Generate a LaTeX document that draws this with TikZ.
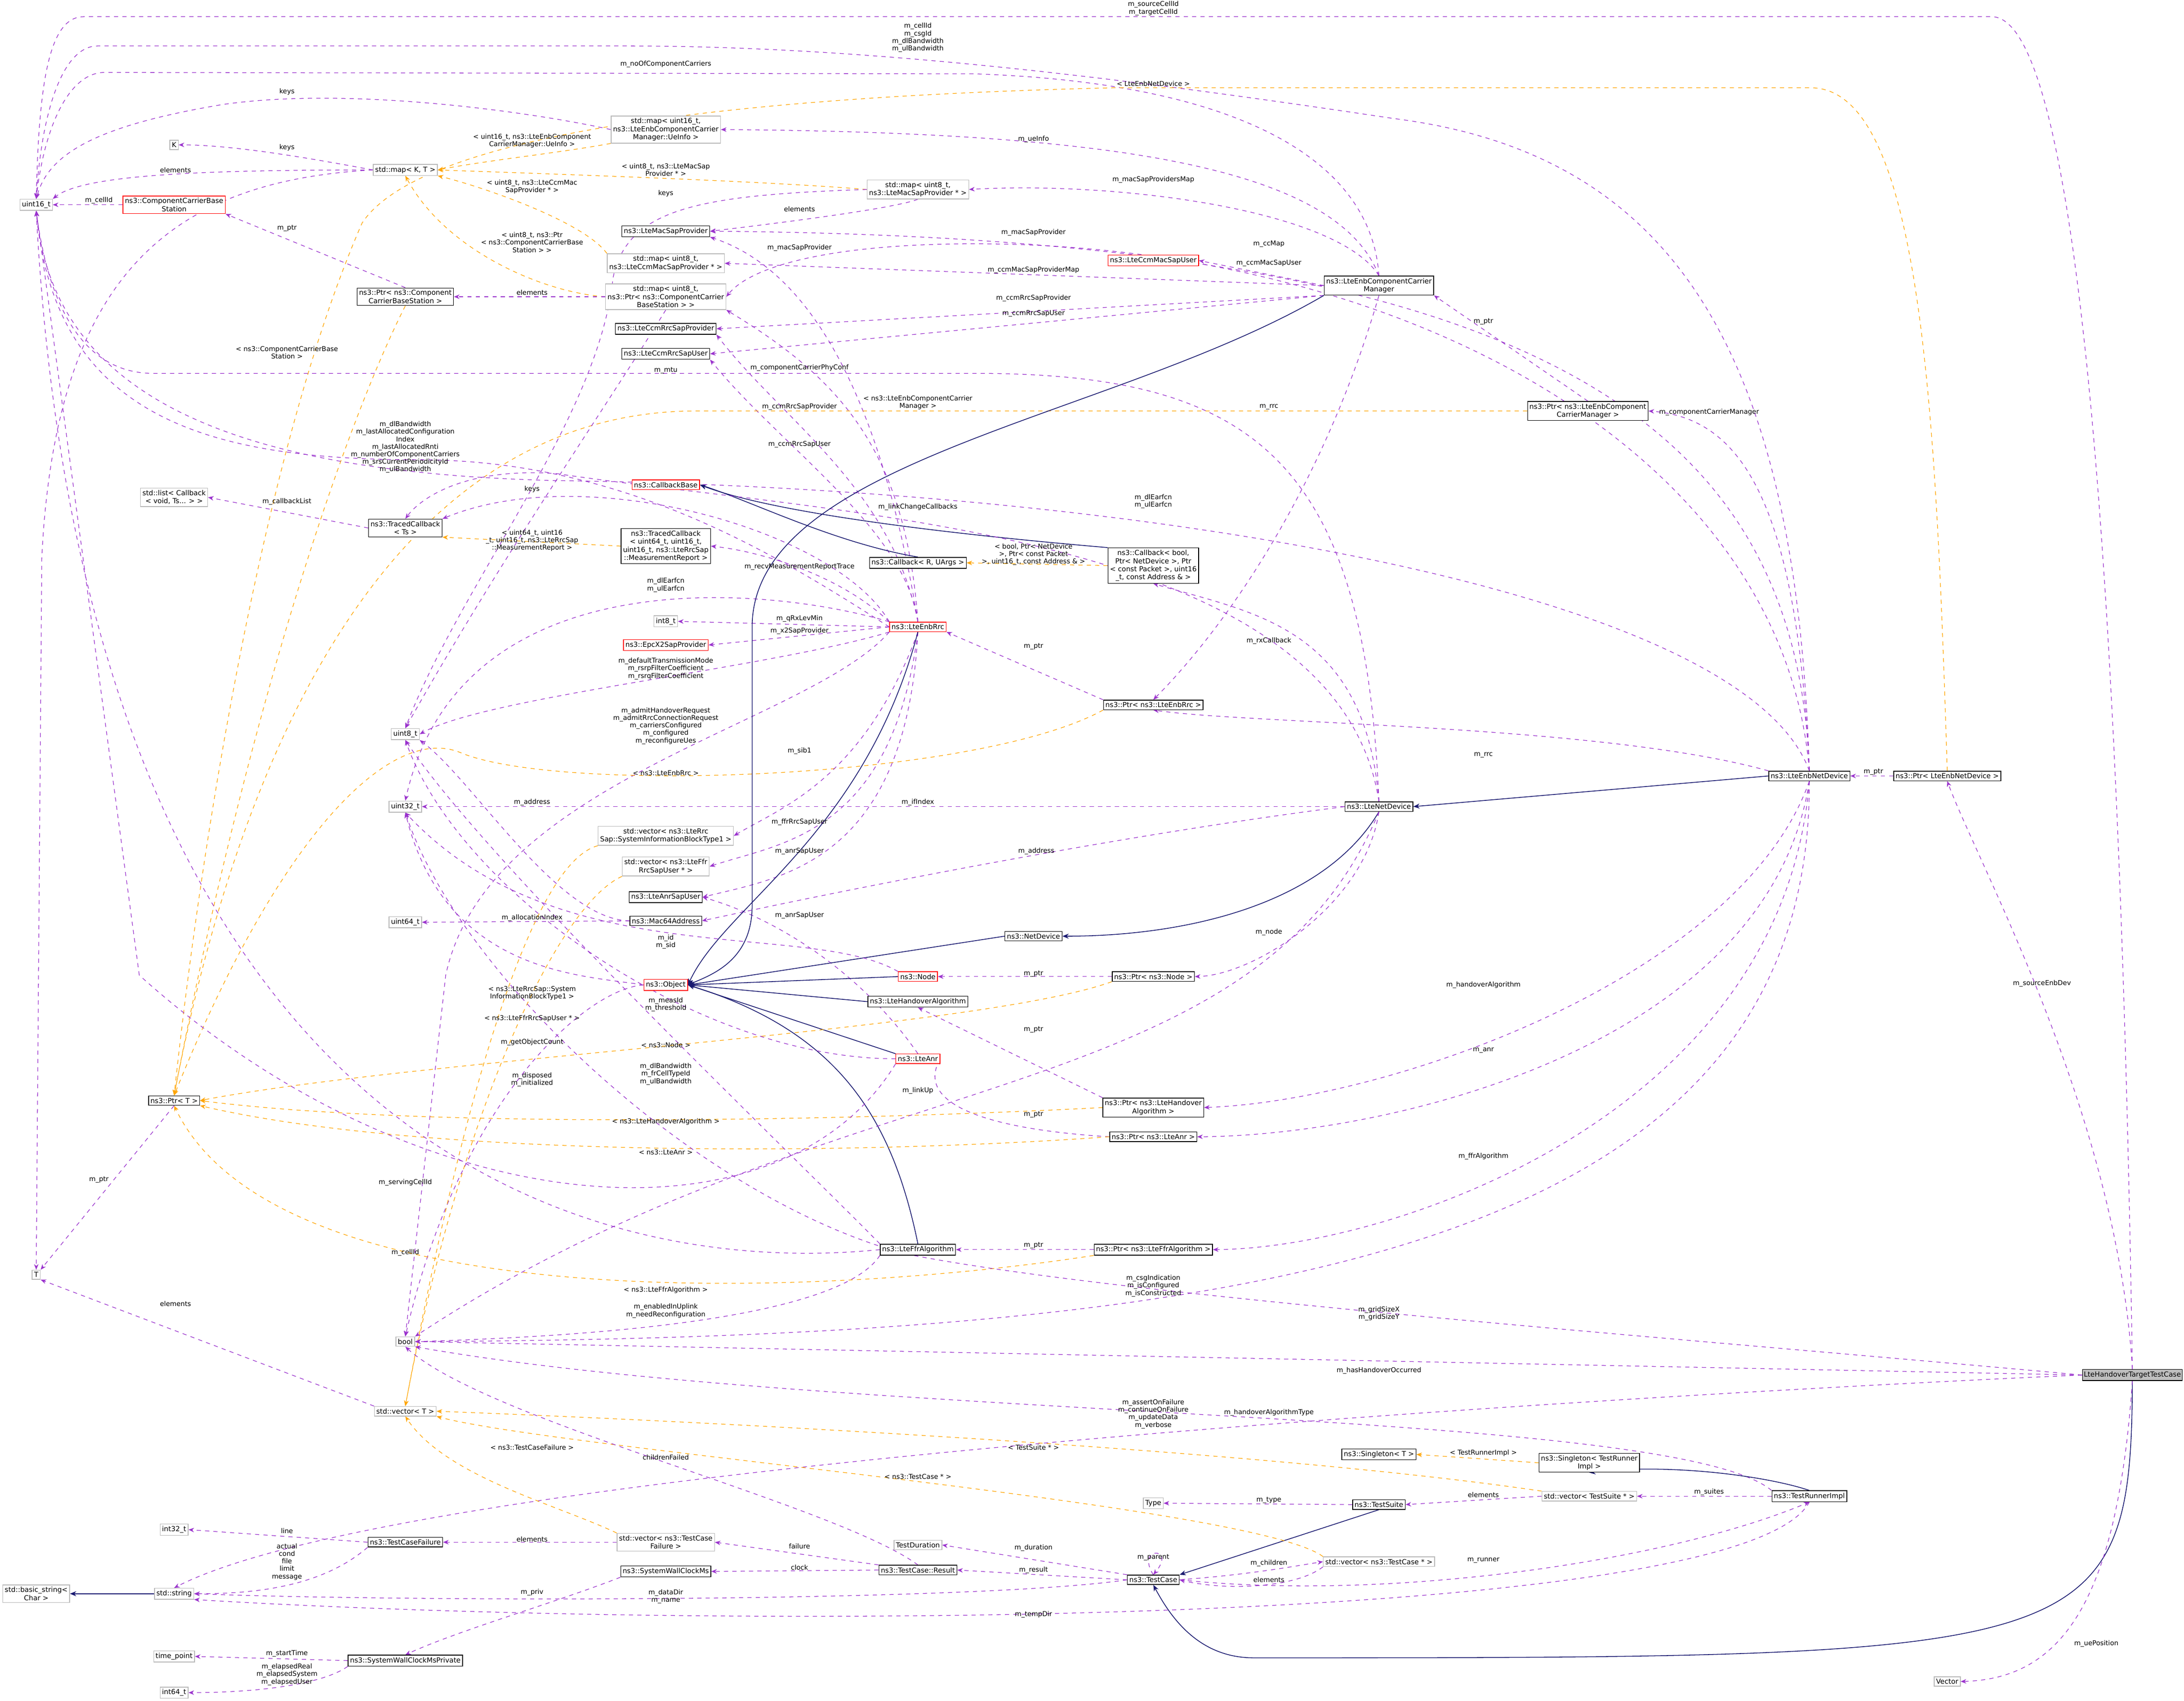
\documentclass[tikz,border=0pt]{standalone}
\usepackage{fontspec}
\setmainfont{DejaVu Sans}
\usetikzlibrary{arrows.meta}
\pgfdeclarelayer{bg}
\pgfsetlayers{bg,main}
\definecolor{pu}{HTML}{9A32CD}
\definecolor{og}{HTML}{FFA500}
\definecolor{nv}{HTML}{191970}
\tikzset{
 base/.style={rectangle,fill=white,align=center,inner xsep=1.4pt,inner ysep=1.5pt,font=\fontsize{5}{5.8}\selectfont,line width=0.5pt},
 cls/.style={base,draw=black},
 ext/.style={base,draw=gray!55},
 rd/.style={base,draw=red},
 lab/.style={align=center,inner sep=0.3pt,font=\fontsize{4.8}{5.4}\selectfont},
 pe/.style={draw=pu,dashed,line width=0.45pt,-{Stealth[length=4pt,width=3.2pt]}},
 oe/.style={draw=og,dashed,line width=0.45pt,-{Stealth[length=4pt,width=3.2pt]}},
 ie/.style={draw=nv,line width=0.55pt,-{Stealth[length=4.5pt,width=3.6pt]}},
}
\begin{document}
\begin{tikzpicture}[x=1pt,y=-1pt]
\begin{pgfonlayer}{bg}
\useasboundingbox[fill=white] (0,0) rectangle (1568,1221);
\end{pgfonlayer}
% ---------- nodes
\node[ext] (u16) at (26,147) {uint16\_t};
\node[ext] (K) at (125,104) {K};
\node[ext] (mapKT) at (291,122) {std::map< K, T >};
\node[ext] (mapUe) at (478,93) {std::map< uint16\_t,\\ ns3::LteEnbComponentCarrier\\Manager::UeInfo >};
\node[ext] (mapMac) at (659,136) {std::map< uint8\_t,\\ ns3::LteMacSapProvider * >};
\node[rd] (ccbs) at (125,147) {ns3::ComponentCarrierBase\\Station};
\node[cls] (macsp) at (478,166) {ns3::LteMacSapProvider};
\node[ext] (mapCcmMac) at (478,189) {std::map< uint8\_t,\\ ns3::LteCcmMacSapProvider * >};
\node[cls] (ptrCcbs) at (291,213) {ns3::Ptr< ns3::Component\\CarrierBaseStation >};
\node[ext] (mapCcbs) at (478,213) {std::map< uint8\_t,\\ ns3::Ptr< ns3::ComponentCarrier\\BaseStation > >};
\node[cls] (ccmRrcP) at (478,236) {ns3::LteCcmRrcSapProvider};
\node[cls] (ccmRrcU) at (478,254) {ns3::LteCcmRrcSapUser};
\node[rd] (ccmMacU) at (828,187) {ns3::LteCcmMacSapUser};
\node[cls] (ccm) at (990,205) {ns3::LteEnbComponentCarrier\\Manager};
\node[cls] (ptrCcm) at (1140,295) {ns3::Ptr< ns3::LteEnbComponent\\CarrierManager >};
\node[ext] (list) at (125,357) {std::list< Callback\\< void, Ts... > >};
\node[cls] (tcTs) at (291,379) {ns3::TracedCallback\\< Ts >};
\node[rd] (cbBase) at (478,348) {ns3::CallbackBase};
\node[cls] (tcMR) at (478,392) {ns3::TracedCallback\\< uint64\_t, uint16\_t,\\ uint16\_t, ns3::LteRrcSap\\::MeasurementReport >};
\node[cls] (cbRU) at (659,404) {ns3::Callback< R, UArgs >};
\node[cls] (cbBool) at (828,406) {ns3::Callback< bool,\\ Ptr< NetDevice >, Ptr\\< const Packet >, uint16\\\_t, const Address \& >};
\node[ext] (i8) at (478,446) {int8\_t};
\node[rd] (rrc) at (659,450) {ns3::LteEnbRrc};
\node[rd] (x2) at (478,463) {ns3::EpcX2SapProvider};
\node[cls] (ptrRrc) at (828,506) {ns3::Ptr< ns3::LteEnbRrc >};
\node[ext] (u8) at (291,527) {uint8\_t};
\node[ext] (u32) at (291,579) {uint32\_t};
\node[cls] (ltend) at (990,579) {ns3::LteNetDevice};
\node[cls] (enbdev) at (1299,557) {ns3::LteEnbNetDevice};
\node[cls] (ptrEnbdev) at (1398,557) {ns3::Ptr< LteEnbNetDevice >};
\node[ext] (vSib) at (478,600) {std::vector< ns3::LteRrc\\Sap::SystemInformationBlockType1 >};
\node[ext] (vFfr) at (478,622) {std::vector< ns3::LteFfr\\RrcSapUser * >};
\node[cls] (anrSap) at (478,644) {ns3::LteAnrSapUser};
\node[cls] (mac64) at (478,661) {ns3::Mac64Address};
\node[ext] (u64) at (291,662) {uint64\_t};
\node[cls] (netdev) at (742,672) {ns3::NetDevice};
\node[rd] (node) at (659,701) {ns3::Node};
\node[cls] (ptrNode) at (828,701) {ns3::Ptr< ns3::Node >};
\node[rd] (obj) at (478,707) {ns3::Object};
\node[cls] (ho) at (659,719) {ns3::LteHandoverAlgorithm};
\node[rd] (anr) at (659,760) {ns3::LteAnr};
\node[cls] (ptrT) at (125,790) {ns3::Ptr< T >};
\node[cls] (ptrHo) at (828,795) {ns3::Ptr< ns3::LteHandover\\Algorithm >};
\node[cls] (ptrAnr) at (828,816) {ns3::Ptr< ns3::LteAnr >};
\node[ext] (T) at (26,915) {T};
\node[cls] (ffr) at (659,897) {ns3::LteFfrAlgorithm};
\node[cls] (ptrFfr) at (828,897) {ns3::Ptr< ns3::LteFfrAlgorithm >};
\node[ext] (bool) at (291,963) {bool};
\node[ext] (vT) at (291,1013) {std::vector< T >};
\node[base,draw=black,fill=gray!50,anchor=east,inner xsep=1pt] (htc) at (1567,987) {LteHandoverTargetTestCase};
\node[cls] (singT) at (990,1044) {ns3::Singleton< T >};
\node[cls] (singR) at (1141,1050) {ns3::Singleton< TestRunner\\Impl >};
\node[ext] (type) at (828,1079) {Type};
\node[cls] (suite) at (990,1080) {ns3::TestSuite};
\node[ext] (vSuite) at (1141,1074) {std::vector< TestSuite * >};
\node[cls] (runner) at (1299,1074) {ns3::TestRunnerImpl};
\node[ext] (i32) at (125,1098) {int32\_t};
\node[cls] (tcf) at (291,1107) {ns3::TestCaseFailure};
\node[ext] (vTcf) at (478,1107) {std::vector< ns3::TestCase\\Failure >};
\node[ext] (dur) at (659,1109) {TestDuration};
\node[cls] (swc) at (478,1128) {ns3::SystemWallClockMs};
\node[cls] (result) at (659,1127) {ns3::TestCase::Result};
\node[cls] (tcase) at (828,1134) {ns3::TestCase};
\node[ext] (vTc) at (990,1121) {std::vector< ns3::TestCase * >};
\node[ext] (bstr) at (26,1144) {std::basic\_string<\\ Char >};
\node[ext] (str) at (125,1144) {std::string};
\node[ext] (tp) at (125,1189) {time\_point};
\node[cls] (swcp) at (291,1192) {ns3::SystemWallClockMsPrivate};
\node[ext] (i64) at (125,1215) {int64\_t};
\node[ext] (vec) at (1398,1207) {Vector};

% ---------- labels
\node[lab] (l1) at (828,6) {m\_sourceCellId\\m\_targetCellId};
\node[lab] (l2) at (659,27) {m\_cellId\\m\_csgId\\m\_dlBandwidth\\m\_ulBandwidth};
\node[lab] (l3) at (478,46) {m\_noOfComponentCarriers};
\node[lab] (l4) at (206,66) {keys};
\node[lab] (l5) at (828,60) {< LteEnbNetDevice >};
\node[lab] (l6) at (206,106) {keys};
\node[lab] (l7) at (126,122) {elements};
\node[lab] (l8) at (382,101) {< uint16\_t, ns3::LteEnbComponent\\CarrierManager::UeInfo >};
\node[lab] (l9) at (478,122) {< uint8\_t, ns3::LteMacSap\\Provider * >};
\node[lab] (l10) at (382,134) {< uint8\_t, ns3::LteCcmMac\\SapProvider * >};
\node[lab] (l11) at (478,139) {keys};
\node[lab] (l12) at (574,150) {elements};
\node[lab] (l13) at (742,100) {m\_ueInfo};
\node[lab] (l14) at (828,129) {m\_macSapProvidersMap};
\node[lab] (l15) at (71,144) {m\_cellId};
\node[lab] (l16) at (206,164) {m\_ptr};
\node[lab] (l17) at (382,174) {< uint8\_t, ns3::Ptr\\< ns3::ComponentCarrierBase\\Station > >};
\node[lab] (l18) at (382,210) {elements};
\node[lab] (l19) at (742,167) {m\_macSapProvider};
\node[lab] (l20) at (911,175) {m\_ccMap};
\node[lab] (l21) at (574,178) {m\_macSapProvider};
\node[lab] (l22) at (911,189) {m\_ccmMacSapUser};
\node[lab] (l23) at (742,194) {m\_ccmMacSapProviderMap};
\node[lab] (l24) at (742,214) {m\_ccmRrcSapProvider};
\node[lab] (l25) at (742,225) {m\_ccmRrcSapUser};
\node[lab] (l26) at (206,253) {< ns3::ComponentCarrierBase\\Station >};
\node[lab] (l27) at (574,264) {m\_componentCarrierPhyConf};
\node[lab] (l28) at (659,289) {< ns3::LteEnbComponentCarrier\\Manager >};
\node[lab] (l29) at (1065,231) {m\_ptr};
\node[lab] (l30) at (1227,296) {m\_componentCarrierManager};
\node[lab] (l31) at (911,292) {m\_rrc};
\node[lab] (l32) at (478,266) {m\_mtu};
\node[lab] (l33) at (574,292) {m\_ccmRrcSapProvider};
\node[lab] (l34) at (574,319) {m\_ccmRrcSapUser};
\node[lab] (l35) at (291,321) {m\_dlBandwidth\\m\_lastAllocatedConfiguration\\Index\\m\_lastAllocatedRnti\\m\_numberOfComponentCarriers\\m\_srsCurrentPeriodicityId\\m\_ulBandwidth};
\node[lab] (l36) at (206,360) {m\_callbackList};
\node[lab] (l37) at (382,351) {keys};
\node[lab] (l39) at (382,388) {< uint64\_t, uint16\\\_t, uint16\_t, ns3::LteRrcSap\\::MeasurementReport >};
\node[lab] (l40) at (659,364) {m\_linkChangeCallbacks};
\node[lab] (l41) at (828,360) {m\_dlEarfcn\\m\_ulEarfcn};
\node[lab] (l42) at (742,398) {< bool, Ptr< NetDevice\\>, Ptr< const Packet\\>, uint16\_t, const Address \& >};
\node[lab] (l43) at (574,407) {m\_recvMeasurementReportTrace};
\node[lab] (l44) at (478,420) {m\_dlEarfcn\\m\_ulEarfcn};
\node[lab] (l45) at (574,444) {m\_qRxLevMin};
\node[lab] (l46) at (574,453) {m\_x2SapProvider};
\node[lab] (l47) at (478,480) {m\_defaultTransmissionMode\\m\_rsrpFilterCoefficient\\m\_rsrqFilterCoefficient};
\node[lab] (l48) at (742,464) {m\_ptr};
\node[lab] (l49) at (911,460) {m\_rxCallback};
\node[lab] (l50) at (478,521) {m\_admitHandoverRequest\\m\_admitRrcConnectionRequest\\m\_carriersConfigured\\m\_configured\\m\_reconfigureUes};
\node[lab] (l51) at (574,539) {m\_sib1};
\node[lab] (l52) at (478,555) {< ns3::LteEnbRrc >};
\node[lab] (l53) at (1065,542) {m\_rrc};
\node[lab] (l54) at (1345,554) {m\_ptr};
\node[lab] (l55) at (659,576) {m\_ifIndex};
\node[lab] (l56) at (382,576) {m\_address};
\node[lab] (l57) at (574,590) {m\_ffrRrcSapUser};
\node[lab] (l58) at (574,611) {m\_anrSapUser};
\node[lab] (l59) at (744,611) {m\_address};
\node[lab] (l60) at (574,657) {m\_anrSapUser};
\node[lab] (l61) at (382,659) {m\_allocationIndex};
\node[lab] (l62) at (911,669) {m\_node};
\node[lab] (l63) at (478,676) {m\_id\\m\_sid};
\node[lab] (l64) at (742,699) {m\_ptr};
\node[lab] (l65) at (382,713) {< ns3::LteRrcSap::System\\InformationBlockType1 >};
\node[lab] (l66) at (478,721) {m\_measId\\m\_threshold};
\node[lab] (l67) at (382,731) {< ns3::LteFfrRrcSapUser * >};
\node[lab] (l68) at (742,739) {m\_ptr};
\node[lab] (l69) at (382,748) {m\_getObjectCount};
\node[lab] (l70) at (478,750) {< ns3::Node >};
\node[lab] (l71) at (382,775) {m\_disposed\\m\_initialized};
\node[lab] (l72) at (1065,707) {m\_handoverAlgorithm};
\node[lab] (l73) at (478,771) {m\_dlBandwidth\\m\_frCellTypeId\\m\_ulBandwidth};
\node[lab] (l74) at (659,783) {m\_linkUp};
\node[lab] (l75) at (742,800) {m\_ptr};
\node[lab] (l76) at (478,805) {< ns3::LteHandoverAlgorithm >};
\node[lab] (l77) at (478,827) {< ns3::LteAnr >};
\node[lab] (l78) at (1065,754) {m\_anr};
\node[lab] (l79) at (71,847) {m\_ptr};
\node[lab] (l80) at (291,849) {m\_servingCellId};
\node[lab] (l81) at (291,899) {m\_cellId};
\node[lab] (l82) at (742,894) {m\_ptr};
\node[lab] (l83) at (1065,830) {m\_ffrAlgorithm};
\node[lab] (l84) at (126,936) {elements};
\node[lab] (l85) at (478,926) {< ns3::LteFfrAlgorithm >};
\node[lab] (l86) at (478,941) {m\_enabledInUplink\\m\_needReconfiguration};
\node[lab] (l87) at (828,923) {m\_csgIndication\\m\_isConfigured\\m\_isConstructed};
\node[lab] (l88) at (990,943) {m\_gridSizeX\\m\_gridSizeY};
\node[lab] (l89) at (990,984) {m\_hasHandoverOccurred};
\node[lab] (l90) at (911,1014) {m\_handoverAlgorithmType};
\node[lab] (l91) at (828,1015) {m\_assertOnFailure\\m\_continueOnFailure\\m\_updateData\\m\_verbose};
\node[lab] (l92) at (1466,706) {m\_sourceEnbDev};
\node[lab] (l93) at (1505,1180) {m\_uePosition};
\node[lab] (l94) at (1065,1043) {< TestRunnerImpl >};
\node[lab] (l95) at (742,1039) {< TestSuite * >};
\node[lab] (l96) at (659,1060) {< ns3::TestCase * >};
\node[lab] (l97) at (478,1046) {childrenFailed};
\node[lab] (l98) at (382,1039) {< ns3::TestCaseFailure >};
\node[lab] (l99) at (1227,1071) {m\_suites};
\node[lab] (l100) at (1065,1073) {elements};
\node[lab] (l101) at (911,1077) {m\_type};
\node[lab] (l102) at (206,1099) {line};
\node[lab] (l103) at (206,1121) {actual\\cond\\file\\limit\\message};
\node[lab] (l104) at (382,1105) {elements};
\node[lab] (l105) at (574,1110) {failure};
\node[lab] (l106) at (574,1125) {clock};
\node[lab] (l107) at (742,1111) {m\_duration};
\node[lab] (l108) at (828,1118) {m\_parent};
\node[lab] (l109) at (742,1127) {m\_result};
\node[lab] (l110) at (911,1122) {m\_children};
\node[lab] (l111) at (911,1134) {elements};
\node[lab] (l112) at (1065,1120) {m\_runner};
\node[lab] (l113) at (478,1146) {m\_dataDir\\m\_name};
\node[lab] (l114) at (742,1159) {m\_tempDir};
\node[lab] (l115) at (382,1143) {m\_priv};
\node[lab] (l116) at (206,1187) {m\_startTime};
\node[lab] (l117) at (206,1202) {m\_elapsedReal\\m\_elapsedSystem\\m\_elapsedUser};

\begin{pgfonlayer}{bg}
\draw[pe] (htc.north) .. controls (1525,600) and (1505,12) .. (1430,12) -- (60,12) .. controls (35,12) and (28,60) .. (u16.north);
\draw[pe] (enbdev.north) .. controls (1290,250) and (1200,110) .. (1000,85) .. controls (800,55) and (620,33) .. (450,33) -- (70,33) .. controls (45,33) and (30,80) .. (u16.north);
\draw[pe] (ccm.north) .. controls (985,120) and (900,60) .. (700,53) -- (75,52) .. controls (50,52) and (32,90) .. (u16.north);
\draw[pe] (mapUe.west) .. controls (380,80) and (250,62) .. (160,75) .. controls (70,90) and (35,110) .. (u16.north);
\draw[oe] (ptrEnbdev.north) .. controls (1390,300) and (1380,63) .. (1300,63) -- (800,63) .. controls (500,70) and (300,100) .. (260,160) .. controls (190,320) and (145,600) .. (ptrT.north);
\draw[pe] (mapKT.west) .. controls (230,115) and (170,104) .. (K.east);
\draw[pe] (mapKT.west) .. controls (150,122) and (60,125) .. (u16.north east);
\draw[pe] (mapKT.west) .. controls (120,130) and (40,200) .. (30,400) -- (T.north);
\draw[oe] (mapUe.south west) .. controls (400,110) and (350,115) .. (mapKT.east);
\draw[oe] (mapMac.west) .. controls (550,130) and (400,125) .. (mapKT.east);
\draw[oe] (mapCcmMac.north west) .. controls (420,160) and (350,135) .. (mapKT.south east);
\draw[oe] (mapCcbs.west) .. controls (390,210) and (320,180) .. (mapKT.south);
\draw[pe] (mapMac.west) .. controls (500,140) and (450,150) .. (440,200) .. controls (430,300) and (330,420) .. (u8.north);
\draw[pe] (mapMac.south) .. controls (640,150) and (560,160) .. (macsp.east);
\draw[pe] (mapCcbs.west) -- (ptrCcbs.east);
\draw[pe] (ptrCcbs.north) -- (ccbs.south east);
\draw[pe] (ccbs.west) -- (u16.east);
\draw[oe] (ptrCcbs.south) .. controls (250,300) and (180,500) .. (ptrT.north);
\draw[pe] (ccm.north) .. controls (960,120) and (800,95) .. (mapUe.east);
\draw[pe] (ccm.north) .. controls (960,150) and (800,130) .. (mapMac.east);
\draw[pe] (enbdev.north) .. controls (1290,300) and (1100,170) .. (macsp.east);
\draw[pe] (enbdev.north) .. controls (1280,320) and (1000,175) .. (700,175) .. controls (600,175) and (540,190) .. (mapCcbs.east);
\draw[pe] (rrc.north) .. controls (640,330) and (600,200) .. (macsp.south east);
\draw[pe] (ccm.west) -- (ccmMacU.east);
\draw[pe] (ccm.west) -- (mapCcmMac.east);
\draw[pe] (ccm.south west) -- (ccmRrcP.east);
\draw[pe] (ccm.south west) -- (ccmRrcU.east);
\draw[pe] (rrc.north) .. controls (640,350) and (560,300) .. (ccmRrcP.south east);
\draw[pe] (rrc.north) .. controls (650,380) and (560,320) .. (ccmRrcU.south east);
\draw[pe] (rrc.north) .. controls (650,320) and (600,270) .. (mapCcbs.south east);
\draw[pe] (ltend.north) .. controls (980,330) and (900,268) .. (700,268) -- (110,268) .. controls (60,268) and (35,220) .. (u16.south);
\draw[oe] (ptrCcm.west) -- (500,295) .. controls (300,295) and (180,500) .. (ptrT.north);
\draw[pe] (ptrCcm.north) -- (ccm.south east);
\draw[pe] (enbdev.north) .. controls (1290,360) and (1250,300) .. (ptrCcm.east);
\draw[pe] (rrc.west) .. controls (560,400) and (450,330) .. (300,330) .. controls (150,330) and (40,300) .. (u16.south);
\draw[pe] (mapCcbs.south) .. controls (430,300) and (360,400) .. (u8.north);
\draw[pe] (tcTs.west) -- (list.east);
\draw[pe] (rrc.north west) .. controls (600,380) and (420,330) .. (tcTs.north east);
\draw[oe] (tcMR.west) -- (tcTs.south east);
\draw[pe] (rrc.north west) .. controls (600,410) and (540,395) .. (tcMR.east);
\draw[pe] (ltend.north) .. controls (980,450) and (900,440) .. (cbBool.south);
\draw[oe] (cbBool.west) -- (cbRU.east);
\draw[ie] (cbRU.north) .. controls (600,390) and (540,360) .. (cbBase.east);
\draw[ie] (cbBool.north west) .. controls (700,385) and (560,370) .. (cbBase.east);
\draw[pe] (ltend.north) .. controls (960,380) and (600,370) .. (400,340) .. controls (330,335) and (300,360) .. (tcTs.north);
\draw[pe] (enbdev.north) .. controls (1250,420) and (800,350) .. (400,345) .. controls (200,340) and (40,300) .. (u16.south);
\draw[pe] (rrc.north west) .. controls (550,420) and (330,400) .. (u32.north);
\draw[pe] (rrc.west) -- (i8.east);
\draw[pe] (rrc.west) -- (x2.east);
\draw[pe] (rrc.south west) .. controls (550,480) and (350,500) .. (u8.east);
\draw[pe] (rrc.south west) .. controls (580,520) and (350,560) .. (320,700) -- (bool.north);
\draw[pe] (ptrRrc.north west) -- (rrc.south east);
\draw[pe] (ccm.south) .. controls (950,350) and (880,450) .. (ptrRrc.north);
\draw[pe] (enbdev.north west) .. controls (1150,520) and (900,520) .. (ptrRrc.south);
\draw[oe] (ptrRrc.south west) .. controls (700,560) and (400,570) .. (330,540) .. controls (280,520) and (200,600) .. (ptrT.north);
\draw[pe] (rrc.south) .. controls (620,560) and (560,580) .. (vSib.east);
\draw[pe] (rrc.south) .. controls (640,600) and (560,605) .. (vFfr.east);
\draw[pe] (rrc.south) .. controls (650,620) and (560,630) .. (anrSap.east);
\draw[pe] (anr.north) .. controls (620,700) and (560,660) .. (anrSap.east);
\draw[pe] (ltend.west) .. controls (800,600) and (600,640) .. (mac64.east);
\draw[pe] (ltend.west) -- (u32.east);
\draw[pe] (ptrEnbdev.west) -- (enbdev.east);
\draw[ie] (enbdev.west) -- (ltend.east);
\draw[ie] (ltend.south) .. controls (950,650) and (850,672) .. (netdev.east);
\draw[ie] (netdev.west) -- (obj.east);
\draw[ie] (node.west) -- (obj.east);
\draw[ie] (ho.west) -- (obj.east);
\draw[ie] (anr.north west) -- (obj.east);
\draw[ie] (ffr.north) .. controls (640,800) and (600,740) .. (obj.east);
\draw[ie] (rrc.south) .. controls (620,600) and (520,650) .. (obj.east);
\draw[ie] (ccm.south west) .. controls (800,300) and (540,330) .. (540,450) -- (540,650) .. controls (540,690) and (510,700) .. (obj.east);
\draw[pe] (mac64.west) .. controls (400,660) and (340,560) .. (u8.south east);
\draw[pe] (mac64.west) -- (u64.east);
\draw[pe] (node.north west) .. controls (580,660) and (400,700) .. (u32.south);
\draw[pe] (ptrNode.west) -- (node.east);
\draw[pe] (ltend.south) .. controls (980,650) and (900,700) .. (ptrNode.east);
\draw[oe] (ptrNode.south west) .. controls (700,740) and (300,760) .. (ptrT.east);
\draw[pe] (obj.west) .. controls (420,710) and (330,790) .. (bool.north);
\draw[pe] (obj.west) .. controls (420,700) and (320,700) .. (u32.south);
\draw[oe] (vSib.south west) .. controls (380,620) and (330,800) .. (vT.north);
\draw[oe] (vFfr.south west) .. controls (400,650) and (330,800) .. (vT.north);
\draw[pe] (anr.west) .. controls (500,760) and (330,640) .. (u8.south);
\draw[pe] (ptrHo.north west) -- (ho.south);
\draw[oe] (ptrHo.west) .. controls (600,805) and (300,810) .. (ptrT.east);
\draw[pe] (enbdev.south) .. controls (1250,700) and (1000,790) .. (ptrHo.east);
\draw[pe] (ptrAnr.west) .. controls (700,810) and (660,790) .. (anr.east);
\draw[oe] (ptrAnr.west) .. controls (600,830) and (300,830) .. (ptrT.south east);
\draw[pe] (enbdev.south) .. controls (1270,750) and (1000,815) .. (ptrAnr.east);
\draw[pe] (ltend.south) .. controls (900,800) and (600,760) .. (bool.north east);
\draw[pe] (ffr.north west) .. controls (560,820) and (350,620) .. (u8.south);
\draw[pe] (ffr.west) .. controls (400,920) and (60,800) .. (u16.south);
\draw[pe] (anr.south west) .. controls (560,900) and (300,880) .. (100,700) -- (u16.south);
\draw[pe] (ptrFfr.west) -- (ffr.east);
\draw[oe] (ptrFfr.south west) .. controls (600,930) and (200,950) .. (ptrT.south);
\draw[pe] (enbdev.south) .. controls (1280,800) and (1000,896) .. (ptrFfr.east);
\draw[pe] (ffr.south west) .. controls (600,950) and (400,960) .. (bool.east);
\draw[pe] (enbdev.south) .. controls (1300,900) and (900,960) .. (bool.east);
\draw[pe] (htc.west) .. controls (1200,960) and (800,930) .. (650,900) .. controls (500,860) and (330,700) .. (u32.south);
\draw[pe] (htc.west) -- (bool.east);
\draw[pe] (htc.west) .. controls (1200,1000) and (300,1050) .. (str.north);
\draw[ie] (htc.south) .. controls (1530,1190) and (1500,1190) .. (900,1190) .. controls (860,1190) and (840,1160) .. (tcase.south);
\draw[pe] (htc.north) .. controls (1520,800) and (1420,620) .. (ptrEnbdev.south);
\draw[pe] (htc.south) .. controls (1520,1150) and (1480,1205) .. (vec.east);
\draw[pe] (ptrT.south) -- (T.north east);
\draw[pe] (vT.north west) -- (T.south east);
\draw[pe] (runner.north west) .. controls (1200,1010) and (600,1020) .. (bool.south east);
\draw[oe] (singR.west) -- (singT.east);
\draw[ie] (runner.north) .. controls (1270,1060) and (1200,1050) .. (singR.south);
\draw[oe] (vSuite.north west) .. controls (900,1040) and (500,1020) .. (vT.east);
\draw[pe] (runner.west) -- (vSuite.east);
\draw[pe] (vSuite.west) -- (suite.east);
\draw[pe] (suite.west) -- (type.east);
\draw[ie] (suite.south) -- (tcase.north east);
\draw[pe] (tcase.north west) -- (dur.east);
\draw[pe] (tcase.north) .. controls (815,1110) and (845,1110) .. (tcase.north);
\draw[pe] (tcase.east) .. controls (900,1130) and (930,1124) .. (vTc.west);
\draw[pe] (vTc.south west) .. controls (930,1140) and (880,1142) .. (tcase.east);
\draw[oe] (vTc.north west) .. controls (900,1080) and (400,1040) .. (vT.south east);
\draw[pe] (tcase.west) -- (result.east);
\draw[pe] (tcase.east) .. controls (1000,1150) and (1200,1120) .. (runner.south);
\draw[pe] (tcase.west) .. controls (700,1150) and (300,1150) .. (str.east);
\draw[pe] (runner.south) .. controls (1250,1170) and (500,1170) .. (str.south east);
\draw[pe] (result.west) -- (swc.east);
\draw[pe] (result.north west) -- (vTcf.east);
\draw[pe] (result.north) .. controls (600,1080) and (350,1020) .. (bool.south);
\draw[pe] (vTcf.west) -- (tcf.east);
\draw[oe] (vTcf.north west) .. controls (400,1080) and (320,1060) .. (vT.south);
\draw[pe] (tcf.west) -- (i32.east);
\draw[pe] (tcf.south west) .. controls (230,1140) and (180,1144) .. (str.east);
\draw[ie] (str.west) -- (bstr.east);
\draw[pe] (swc.south west) .. controls (400,1150) and (330,1170) .. (swcp.north);
\draw[pe] (swcp.west) -- (tp.east);
\draw[pe] (swcp.south west) .. controls (230,1210) and (180,1215) .. (i64.east);
\end{pgfonlayer}
\end{tikzpicture}
\end{document}
